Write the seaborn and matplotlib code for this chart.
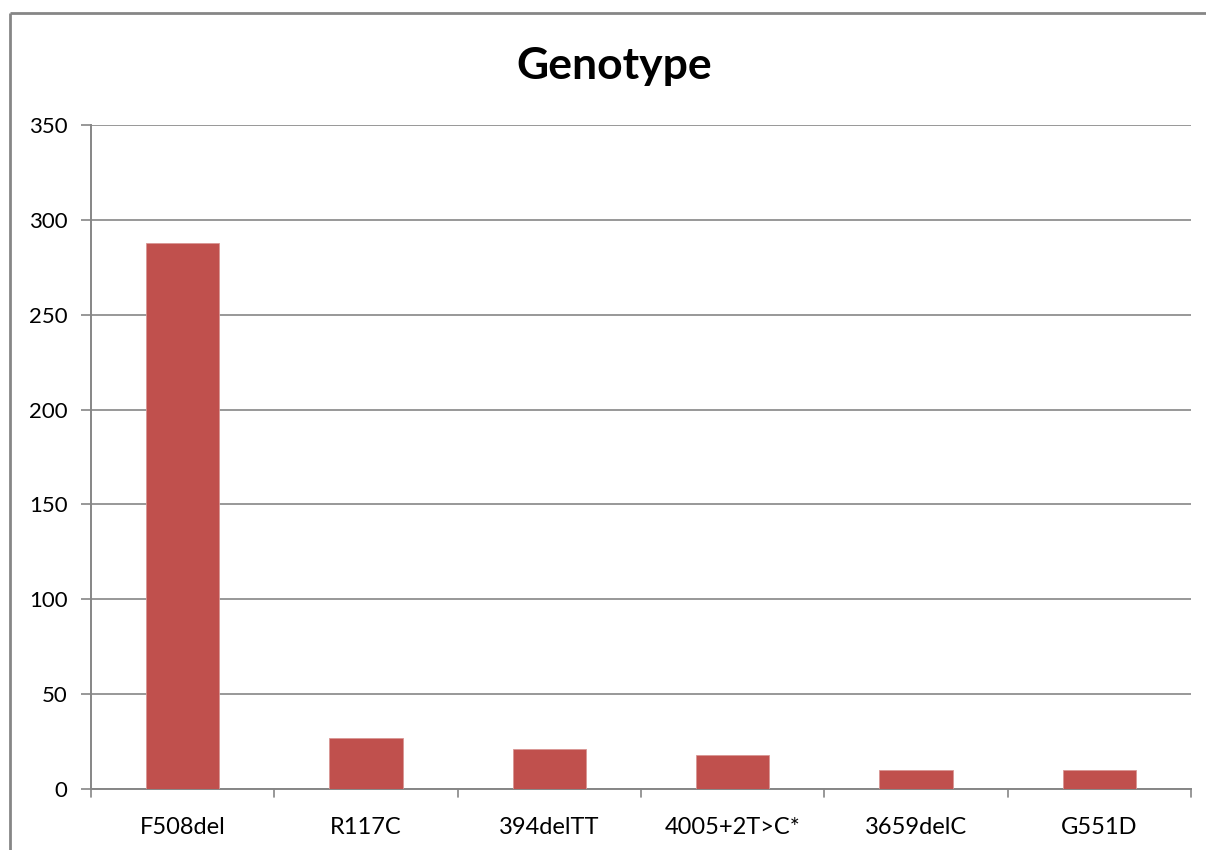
import matplotlib
matplotlib.use("Agg")
import matplotlib.pyplot as plt
from matplotlib.lines import Line2D
import seaborn as sns
import pandas as pd

genotypes = ["F508del", "R117C", "394delTT", "4005+2T>C*", "3659delC", "G551D"]
counts = [288, 27, 21, 18, 10, 10]
y_ticks = [0, 50, 100, 150, 200, 250, 300, 350]

sns.set_theme(style="white")
plt.rcParams["font.family"] = ["Lato", "DejaVu Sans"]
plt.rcParams["text.color"] = "black"
plt.rcParams["xtick.color"] = "black"
plt.rcParams["ytick.color"] = "black"

df = pd.DataFrame({"genotype": genotypes, "count": counts})

fig = plt.figure(figsize=(12.06, 8.5), dpi=100)
ax = fig.add_axes([91 / 1206, (850 - 789) / 850, 1100 / 1206, 664 / 850])

grey = "#868686"

sns.barplot(data=df, x="genotype", y="count", color="#C0504D", width=0.4,
            saturation=1, edgecolor="#D99694", linewidth=0.6, ax=ax, zorder=3)

ax.set_ylim(0, 350)
ax.set_xlim(-0.5, len(genotypes) - 0.5)
ax.set_yticks(y_ticks)
ax.yaxis.grid(True, color=grey, linewidth=1.2, zorder=0)
ax.set_axisbelow(True)
ax.set_xlabel("")
ax.set_ylabel("")

for side in ("top", "right"):
    ax.spines[side].set_visible(False)
for side in ("left", "bottom"):
    ax.spines[side].set_color(grey)
    ax.spines[side].set_linewidth(1.4)

# category separators as tick marks below the axis
ax.set_xticks(range(len(genotypes)))
ax.set_xticklabels(genotypes, fontsize=17)
ax.tick_params(axis="x", length=0, pad=20, labelcolor="black")
for b in [i - 0.5 for i in range(len(genotypes) + 1)]:
    ax.plot([b, b], [0, -0.012], transform=ax.get_xaxis_transform(),
            color=grey, linewidth=1.2, clip_on=False)

ax.tick_params(axis="y", direction="out", length=7, width=1.2, color=grey,
               labelsize=16, pad=10, left=True, labelcolor="black")

fig.text(614 / 1206, 1 - 66 / 850, "Genotype", ha="center",
         va="center", fontsize=32, fontweight="bold", color="black")

# outer chart frame: only the left and top edges fall inside the image
x0, y0 = 9.5 / 1206, 1 - 13 / 850
fig.add_artist(Line2D([x0, x0], [-0.01, y0], transform=fig.transFigure,
                      color=grey, linewidth=2, solid_capstyle="butt"))
fig.add_artist(Line2D([x0, 1.01], [y0, y0], transform=fig.transFigure,
                      color=grey, linewidth=2, solid_capstyle="butt"))

fig.savefig("out.png", dpi=100, facecolor="white")
